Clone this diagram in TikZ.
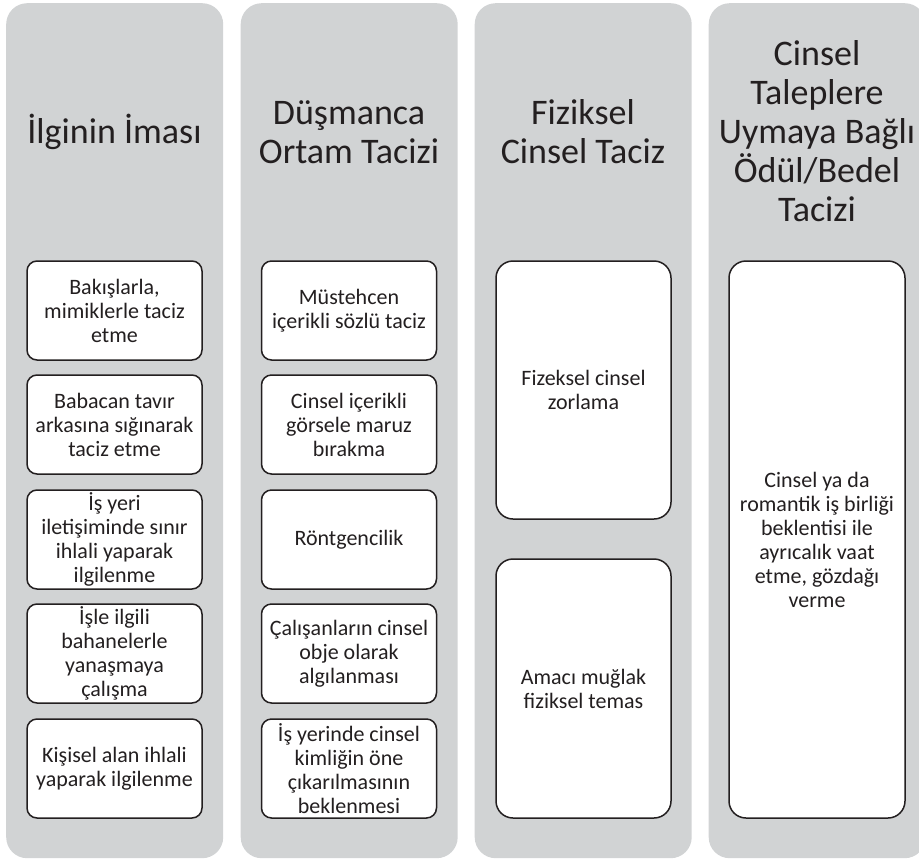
\documentclass[tikz,border=0pt]{standalone}
\usepackage{fontspec}
\setmainfont{Carlito}
\definecolor{colgray}{HTML}{D1D3D4}
\definecolor{ink}{HTML}{231F20}
\begin{document}
\begin{tikzpicture}[x=1pt,y=-1pt,
  col/.style={rectangle,fill=colgray,draw=none,rounded corners=21pt,inner sep=0pt,
    minimum width=217pt,minimum height=855pt,anchor=north west},
  ttl/.style={text=ink,align=center,font=\fontsize{36}{39}\selectfont,inner sep=0pt},
  sbox/.style={rectangle,draw=ink,fill=white,line width=1.5pt,rounded corners=10pt,
    minimum width=175pt,minimum height=99pt,inner sep=0pt,text=ink,align=center,
    font=\fontsize{22}{24}\selectfont},
  lbox/.style={sbox,rounded corners=17pt}]
\clip (0,0) rectangle (919,860);
\useasboundingbox (0,0) rectangle (919,860);
% columns
\node[col] (c1) at (6,3) {};
\node[col] (c2) at (240.5,3) {};
\node[col] (c3) at (474.5,3) {};
\node[col] (c4) at (708.5,3) {};
% titles
\node[ttl] (t1) at (114.5,132) {İlginin İması};
\node[ttl] (t2) at (349,132) {Düşmanca\\Ortam Tacizi};
\node[ttl] (t3) at (583,132) {Fiziksel\\Cinsel Taciz};
\node[ttl] (t4) at (817,131) {Cinsel\\Taleplere\\Uymaya Bağlı\\Ödül/Bedel\\Tacizi};
% column 1
\node[sbox] (a1) at (114.5,310.5) {Bakışlarla,\\mimiklerle taciz\\etme};
\node[sbox] (a2) at (114.5,424.5) {Babacan tavır\\arkasına sığınarak\\taciz etme};
\node[sbox] (a3) at (114.5,539.5) {İş yeri\\iletişiminde sınır\\ihlali yaparak\\ilgilenme};
\node[sbox] (a4) at (114.5,653.5) {İşle ilgili\\bahanelerle\\yanaşmaya\\çalışma};
\node[sbox] (a5) at (114.5,768.5) {Kişisel alan ihlali\\yaparak ilgilenme};
% column 2
\node[sbox] (b1) at (349,310.5) {Müstehcen\\içerikli sözlü taciz};
\node[sbox] (b2) at (349,424.5) {Cinsel içerikli\\görsele maruz\\bırakma};
\node[sbox] (b3) at (349,539.5) {Röntgencilik};
\node[sbox] (b4) at (349,653.5) {Çalışanların cinsel\\obje olarak\\algılanması};
\node[sbox] (b5) at (349,768.5) {İş yerinde cinsel\\kimliğin öne\\çıkarılmasının\\beklenmesi};
% column 3
\node[lbox,minimum height=258pt] (d1) at (583.5,390) {Fizeksel cinsel\\zorlama};
\node[lbox,minimum height=259pt] (d2) at (583.5,688.5) {Amacı muğlak\\fiziksel temas};
% column 4
\node[lbox,minimum width=176pt,minimum height=557pt] (e1) at (817,539.5) {Cinsel ya da\\romantik iş birliği\\beklentisi ile\\ayrıcalık vaat\\etme, gözdağı\\verme};
\end{tikzpicture}
\end{document}
